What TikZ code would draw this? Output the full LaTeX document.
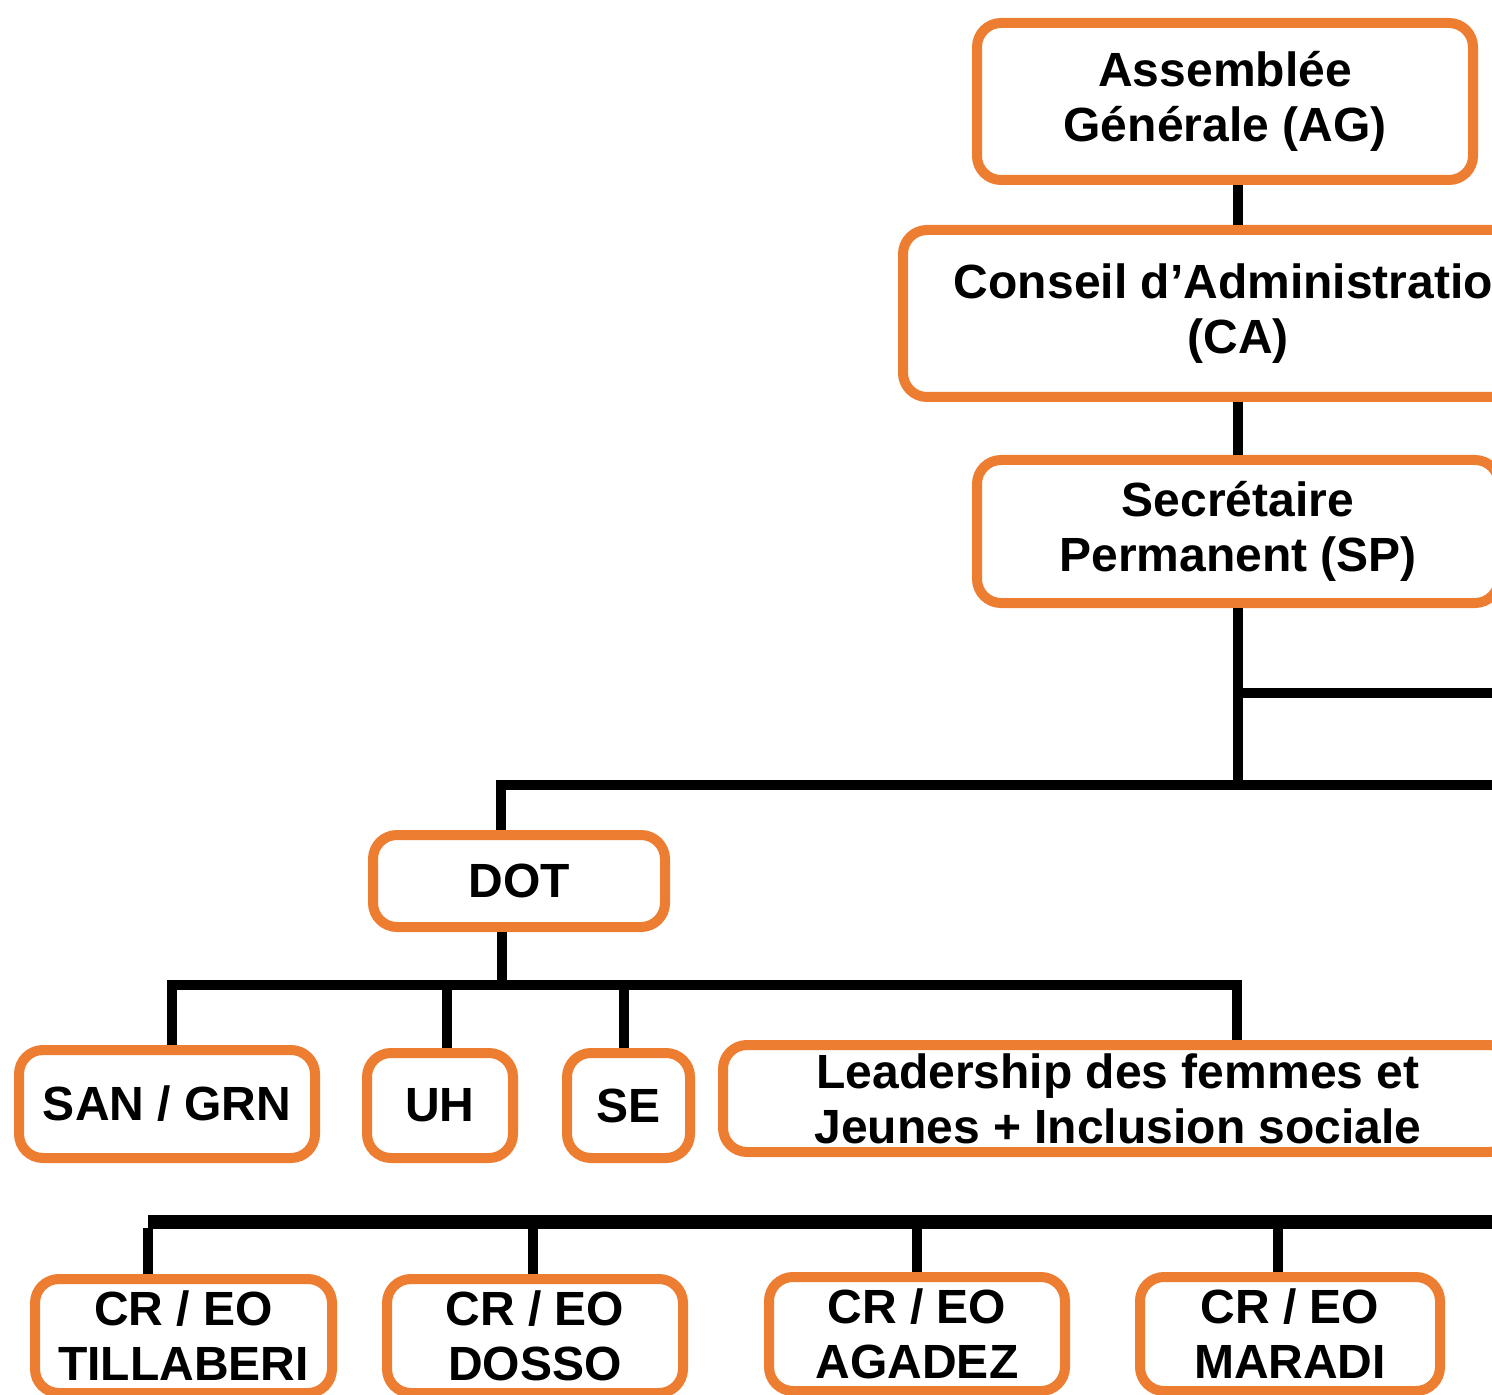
\documentclass[tikz,border=0pt]{standalone}
\usepackage{fontspec}
\setmainfont{Liberation Sans}
\definecolor{boxorange}{RGB}{237,125,49}
\begin{document}
\begin{tikzpicture}[x=0.5pt,y=-0.5pt]
	\tikzstyle{Box} = [rectangle, draw=boxorange, line width=5pt, rounded corners=12pt, fill=white, inner sep=0pt, align=center, font=\fontsize{24}{27.5}\selectfont\bfseries]
	\tikzstyle{Link} = [black, line width=5pt, line join=miter]
	\useasboundingbox (0,0) rectangle (1492,1395);
	\clip (0,0) rectangle (1492,1395);
	\node (AG) at (1225,101.5) [Box, minimum width=248pt, minimum height=78.5pt] {Assemblée\\Générale (AG)};
	\node (CA) at (1238,313.5) [Box, minimum width=335pt, minimum height=83.5pt] {Conseil d’Administration\\(CA)};
	\node (SP) at (1238,531.5) [Box, minimum width=261pt, minimum height=71.5pt] {Secrétaire\\Permanent (SP)};
	\node (DOT) at (519,881) [Box, minimum width=146pt, minimum height=46pt] {DOT};
	\node (SAN) at (167,1104) [Box, minimum width=148pt, minimum height=54pt] {SAN / GRN};
	\node (UH) at (440,1105.5) [Box, minimum width=73pt, minimum height=52.5pt] {UH};
	\node (SE) at (628.5,1105.5) [Box, minimum width=61.5pt, minimum height=52.5pt] {SE};
	\node (Lead) at (1118,1098.5) [Box, minimum width=395pt, minimum height=53.5pt] {Leadership des femmes et\\Jeunes + Inclusion sociale};
	\node (Tilla) at (183.5,1336) [Box, minimum width=148.5pt, minimum height=57pt] {CR / EO\\TILLABERI};
	\node (Dosso) at (535,1336) [Box, minimum width=148pt, minimum height=57pt] {CR / EO\\DOSSO};
	\node (Agadez) at (917,1334) [Box, minimum width=148pt, minimum height=57pt] {CR / EO\\AGADEZ};
	\node (Maradi) at (1290,1334) [Box, minimum width=150pt, minimum height=57pt] {CR / EO\\MARADI};
	\coordinate (SPfork) at (1238,693);
	\coordinate (SPbus) at (1238,785);
	\coordinate (EastFork) at (1500,693);
	\coordinate (EastBus) at (1500,785);
	\coordinate (DOTin) at (501,785);
	\coordinate (DOTout) at (502,985);
	\coordinate (TapSAN) at (172,985);
	\coordinate (TapUH) at (447,985);
	\coordinate (TapSE) at (624,985);
	\coordinate (TapLead) at (1237,985);
	\coordinate (TapTilla) at (148,1222);
	\coordinate (TapDosso) at (533,1222);
	\coordinate (TapAgadez) at (917,1222);
	\coordinate (TapMaradi) at (1278,1222);
	\coordinate (EastReg) at (1500,1222);
	\draw [Link] (AG.south -| CA.north) to (CA.north);
	\draw [Link] (CA.south) to (SP.north);
	\draw [Link] (SP.south) to (SPbus);
	\draw [Link] (SPfork) to (EastFork);
	\draw [Link] (DOT.north -| DOTin) -- (DOTin) -- (EastBus);
	\draw [Link] (DOT.south -| DOTout) to (DOTout);
	\draw [Link] (SAN.north -| TapSAN) -- (TapSAN) -- (TapLead) -- (Lead.north -| TapLead);
	\draw [Link] (TapUH) to (UH.north -| TapUH);
	\draw [Link] (TapSE) to (SE.north -| TapSE);
	\draw [Link, line width=7pt] (TapTilla) to (EastReg);
	\draw [Link] (Tilla.north -| TapTilla) to ([yshift=-3pt]TapTilla);
	\draw [Link] (TapDosso) to (Dosso.north -| TapDosso);
	\draw [Link] (TapAgadez) to (Agadez.north -| TapAgadez);
	\draw [Link] (TapMaradi) to (Maradi.north -| TapMaradi);
\end{tikzpicture}
\end{document}
